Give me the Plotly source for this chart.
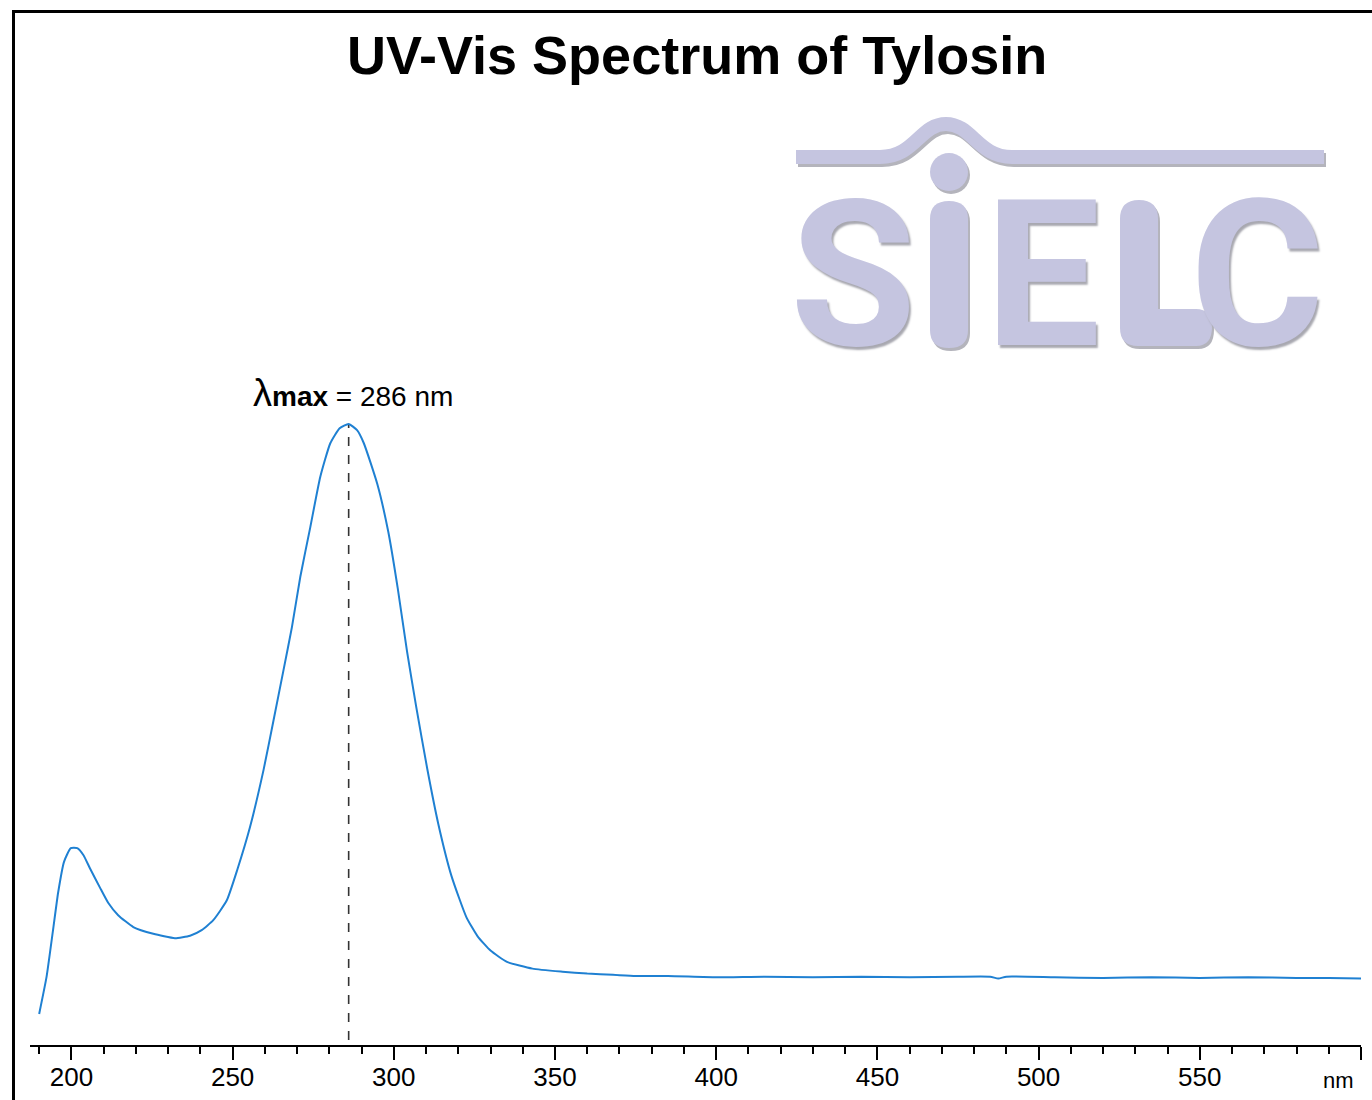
import plotly.graph_objects as go

W, H = 1372, 1100

# ---- data (absorbance normalised to the 286 nm peak) ----
wavelength_nm = [190, 192.3, 194.3, 195.9, 197.7, 199.8, 201.8, 203.7, 205.7, 208.9,
                 211.4, 214.5, 219.2, 225.4, 232.1, 236.8, 240.4, 244.0, 248.2, 251.5,
                 255.4, 259.6, 262.7, 265.8, 268.4, 271.0, 274.1, 277.2, 280.3, 283.2,
                 286.0, 288.6, 290.7, 294.9, 298.3, 301.2, 304.1, 306.9, 310.4, 313.8,
                 317.9, 322.5, 326.0, 330.0, 335.1, 343.0, 352.3, 360, 368, 375, 385,
                 400, 415, 430, 445, 460, 475, 485, 487.5, 490, 505,
                 520, 535, 550, 565, 580, 590, 600]
absorbance = [0.050, 0.110, 0.185, 0.246, 0.295, 0.317, 0.317, 0.306, 0.285, 0.253,
              0.229, 0.209, 0.190, 0.179, 0.172, 0.176, 0.185, 0.201, 0.233, 0.283,
              0.351, 0.443, 0.523, 0.604, 0.673, 0.754, 0.834, 0.915, 0.969, 0.993,
              1.000, 0.990, 0.969, 0.903, 0.826, 0.736, 0.634, 0.546, 0.444, 0.356,
              0.272, 0.206, 0.175, 0.152, 0.134, 0.123, 0.118, 0.115, 0.113, 0.111, 0.111,
              0.109, 0.110, 0.109, 0.110, 0.109, 0.110, 0.110, 0.107, 0.110, 0.109,
              0.108, 0.109, 0.108, 0.109, 0.108, 0.108, 0.107]

tick_values = [200, 250, 300, 350, 400, 450, 500, 550, 600]
tick_labels = ["200", "250", "300", "350", "400", "450", "500", "550", ""]

title_text = "UV-Vis Spectrum of Tylosin"
logo_letters = ["S", "E", "C"]

# ---- layout helpers (pixel -> paper) ----
def px(x):
    return x / W

def py(y):
    return 1 - y / H

AXIS_Y = 1045          # pixel row of x axis
PEAK_PIX = 424         # pixel row of the peak (abs = 1.0)
unit = AXIS_Y - PEAK_PIX
y_top_value = AXIS_Y / unit

LINE_BLUE = "#1f80d2"
LOGO = "#c5c5e0"
LOGO_SHADOW = "#b4b4bc"
FONT = "Liberation Sans, Arial, sans-serif"

peak_i = max(range(len(absorbance)), key=lambda i: absorbance[i])
peak_x = wavelength_nm[peak_i]
peak_y = absorbance[peak_i]

fig = go.Figure()
fig.add_trace(go.Scatter(x=wavelength_nm, y=absorbance, mode="lines",
                         line=dict(color=LINE_BLUE, width=2, shape="spline", smoothing=0.5),
                         hoverinfo="x+y", showlegend=False))

shapes = []
# dashed line at lambda max
shapes.append(dict(type="line", xref="x", yref="y", x0=peak_x, x1=peak_x, y0=0.008, y1=peak_y,
                   line=dict(color="#333333", width=1.6, dash="dash"), layer="below"))

# frame (left and top)
shapes.append(dict(type="line", xref="paper", yref="paper", x0=px(13.5), x1=px(13.5),
                   y0=py(10), y1=py(1100), line=dict(color="black", width=3)))
shapes.append(dict(type="line", xref="paper", yref="paper", x0=px(12), x1=px(1372),
                   y0=py(11.5), y1=py(11.5), line=dict(color="black", width=3)))

def fmt_path(cmds):
    out = []
    for c in cmds:
        if isinstance(c, str):
            out.append(c)
        else:
            out.append("%.6f,%.6f" % (px(c[0]), py(c[1])))
    return " ".join(out)

def shifted(cmds, dx, dy):
    return [c if isinstance(c, str) else (c[0] + dx, c[1] + dy) for c in cmds]

# logo: wave line with bump
wave_cmds = ["M", (796, 157), "L", (880, 157), "C", (915, 157), (920, 124), (946, 124),
             "C", (972, 124), (978, 157), (1012, 157), "L", (1324, 157)]
shapes.append(dict(type="path", xref="paper", yref="paper", path=fmt_path(shifted(wave_cmds, 2, 3)),
                   line=dict(color=LOGO_SHADOW, width=14), layer="below"))
shapes.append(dict(type="path", xref="paper", yref="paper", path=fmt_path(wave_cmds),
                   line=dict(color=LOGO, width=14), layer="below"))

# dot of the i
for dx, dy, col in [(2, 3, LOGO_SHADOW), (0, 0, LOGO)]:
    shapes.append(dict(type="circle", xref="paper", yref="paper",
                       x0=px(930 + dx), x1=px(968 + dx), y0=py(153 + dy), y1=py(191 + dy),
                       fillcolor=col, line=dict(width=0), layer="below"))

# stem of the i (rounded bar)
x0, x1, y0, y1, r = 930, 968, 201, 348, 18
stem_cmds = ["M", (x0, y0 + r), "Q", (x0, y0), ((x0 + x1) / 2, y0), "Q", (x1, y0), (x1, y0 + r),
             "L", (x1, y1 - r), "Q", (x1, y1), ((x0 + x1) / 2, y1), "Q", (x0, y1), (x0, y1 - r), "Z"]
# the L (rounded bars)
l_cmds = ["M", (1120, 219), "Q", (1120, 200), (1139, 200), "Q", (1158, 200), (1158, 219),
          "L", (1158, 309), "L", (1196, 309), "Q", (1212, 309), (1212, 327),
          "Q", (1212, 346), (1196, 346), "L", (1138, 346), "Q", (1120, 346), (1120, 328), "Z"]
for cmds in (stem_cmds, l_cmds):
    shapes.append(dict(type="path", xref="paper", yref="paper", path=fmt_path(shifted(cmds, 2, 3)),
                       fillcolor=LOGO_SHADOW, line=dict(width=0), layer="below"))
    shapes.append(dict(type="path", xref="paper", yref="paper", path=fmt_path(cmds),
                       fillcolor=LOGO, line=dict(width=0), layer="below"))

annotations = []
# title
annotations.append(dict(text="<b>" + title_text + "</b>", x=px(697), y=py(55), xref="paper", yref="paper",
                        showarrow=False, xanchor="center", yanchor="middle",
                        font=dict(family=FONT, size=54, color="black")))
# logo letters
letter_centers = [853, 1042, 1257]
for letter, cx in zip(logo_letters, letter_centers):
    annotations.append(dict(text="<b>" + letter + "</b>", x=px(cx), y=py(275), xref="paper", yref="paper",
                            showarrow=False, xanchor="center", yanchor="middle",
                            font=dict(family="Roboto, Liberation Sans, sans-serif", size=205, color=LOGO,
                                      shadow="2px 3px 2px #a8a8b0")))
# lambda max label
annotations.append(dict(text="<span style='font-size:38px'>λ</span><b>max</b> = %d nm" % round(peak_x),
                        x=peak_x, y=peak_y, xref="x", yref="y", xanchor="center", yanchor="bottom",
                        xshift=4, yshift=8, showarrow=False,
                        font=dict(family=FONT, size=28, color="black")))
# unit label at the end of the axis
annotations.append(dict(text="nm", x=px(1356), y=py(1080), xref="paper", yref="paper",
                        xanchor="right", yanchor="middle", showarrow=False,
                        font=dict(family=FONT, size=22, color="black")))

fig.update_layout(
    width=W, height=H,
    margin=dict(l=0, r=0, t=0, b=0),
    paper_bgcolor="white", plot_bgcolor="white",
    shapes=shapes, annotations=annotations,
    showlegend=False,
    xaxis=dict(range=[187, 600], domain=[px(29.5), px(1361)], anchor="y",
               showline=True, linecolor="black", linewidth=2,
               ticks="outside", ticklen=13, tickwidth=1.5, tickcolor="black",
               tickmode="array", tickvals=tick_values, ticktext=tick_labels,
               ticklabelstandoff=-5,
               tickfont=dict(family=FONT, size=26, color="black"),
               minor=dict(ticks="outside", ticklen=7, tickwidth=1.5, tickcolor="black",
                          tick0=0, dtick=10, showgrid=False),
               showgrid=False, zeroline=False, automargin=False, fixedrange=True),
    yaxis=dict(range=[0, y_top_value], domain=[py(AXIS_Y), 1], visible=False,
               showgrid=False, zeroline=False, automargin=False, fixedrange=True),
)

fig.write_html("out.html", config=dict(displayModeBar=False),
               post_script="document.body.style.margin='0px';document.body.style.overflow='hidden';")
